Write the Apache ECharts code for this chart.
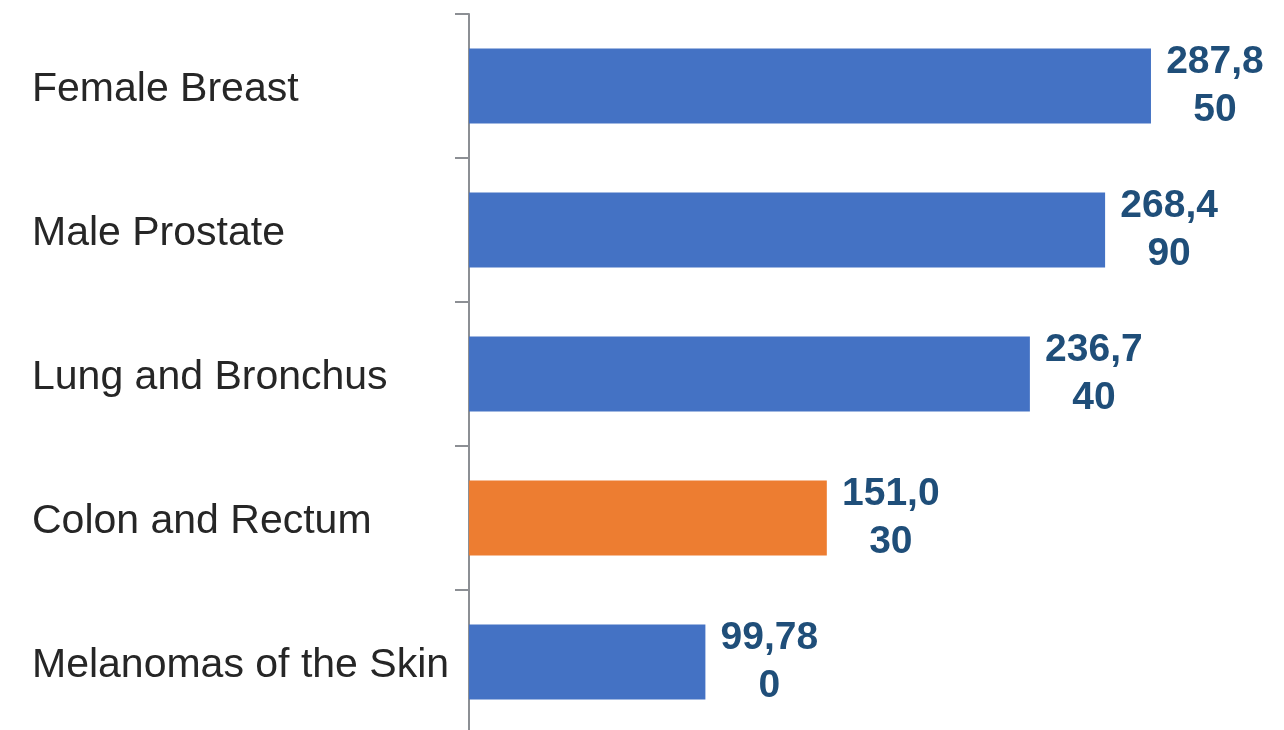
<!DOCTYPE html>
<html>
<head>
<meta charset="utf-8">
<script src="https://cdn.jsdelivr.net/npm/echarts@6/dist/echarts.min.js"></script>
<style>
    html, body {margin: 0; padding: 0; background: #fff; overflow: hidden;}
    #chart {width: 1284px; height: 734px;}
</style>
</head>
<body>
<div id="chart"></div>
<script>
// categories top to bottom
let categories = ['Female Breast', 'Male Prostate', 'Lung and Bronchus', 'Colon and Rectum', 'Melanomas of the Skin'];
let new_cases = [287850, 268490, 236740, 151030, 99780];
let highlight = 'Colon and Rectum';

// "287,850" -> "287,8" / "50", the way the original wraps them
function wrap_label(value) {
    let s = value.toLocaleString('en-US');
    return '{v|' + s.slice(0, 5) + '}\n{v|' + s.slice(5) + '}';
}

let chart = echarts.init(document.getElementById('chart'));

let option = {
    animation: false,
    grid: {left: 469, right: 0, top: 14, bottom: 0, containLabel: false},
    xAxis: {
        type: 'value',
        min: 0,
        max: 344000,
        show: false
    },
    yAxis: {
        type: 'category',
        data: categories,
        inverse: true,
        axisLine: {show: true, lineStyle: {color: '#8c8f94', width: 2}},
        axisTick: {show: true, length: 14, lineStyle: {color: '#8c8f94', width: 2}},
        axisLabel: {
            align: 'left',
            margin: 437,
            formatter: function (v) {
                return '{c|' + v + '}';
            },
            rich: {
                c: {
                    padding: [8, 0, 0, 0],
                    color: '#262626',
                    fontFamily: 'Liberation Sans',
                    fontSize: 41
                }
            }
        },
        splitLine: {show: false}
    },
    series: [{
        type: 'bar',
        data: new_cases,
        barWidth: '52%',
        itemStyle: {
            color: function (p) {
                return p.name === highlight ? '#ED7D31' : '#4472C4';
            }
        },
        label: {
            show: true,
            position: 'right',
            distance: 12,
            formatter: function (p) {
                return wrap_label(p.value);
            },
            lineHeight: 48,
            rich: {
                v: {
                    width: 104,
                    align: 'center',
                    color: '#1F4E79',
                    fontFamily: 'Liberation Sans',
                    fontWeight: 'bold',
                    fontSize: 39,
                    lineHeight: 48
                }
            }
        }
    }]
};

chart.setOption(option);
</script>
</body>
</html>
